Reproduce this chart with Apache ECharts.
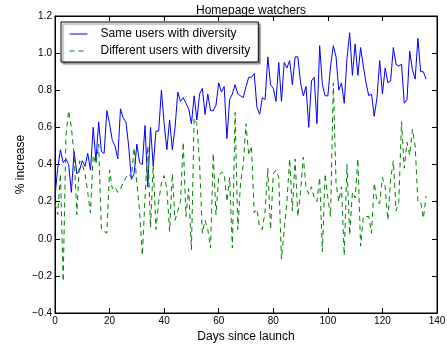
<!DOCTYPE html>
<html>
<head>
<meta charset="utf-8">
<script src="https://cdn.jsdelivr.net/npm/echarts@6/dist/echarts.min.js"></script>
<style>
  html, body { margin: 0; padding: 0; background: #fff; }
  #chart { width: 447px; height: 349px; }
</style>
</head>
<body>
<div id="chart"></div>
<script>
// % increase per day
let sameUsers = [
  0.23, 0.38, 0.48, 0.41, 0.43, 0.40, 0.25, 0.47, 0.35, 0.37,
  0.42, 0.39, 0.46, 0.37, 0.60, 0.42, 0.63, 0.47, 0.46, 0.69,
  0.62, 0.53, 0.50, 0.43, 0.70, 0.65, 0.63, 0.50, 0.32, 0.35,
  0.51, 0.41, 0.40, 0.61, 0.28, 0.60, 0.39, 0.58, 0.58, 0.80,
  0.62, 0.48, 0.64, 0.48, 0.60, 0.79, 0.74, 0.76, 0.73, 0.70,
  0.62, 0.77, 0.64, 0.78, 0.81, 0.67, 0.78, 0.69, 0.69, 0.72,
  0.84, 0.79, 0.82, 0.54, 0.75, 0.78, 0.83, 0.78, 0.77, 0.76,
  0.82, 0.87, 0.87, 0.89, 0.71, 0.67, 0.76, 0.75, 0.98, 0.83,
  0.81, 0.74, 0.95, 0.74, 0.95, 0.92, 0.96, 0.83, 0.98, 0.98,
  0.84, 0.77, 0.82, 0.60, 0.85, 0.87, 0.62, 1.04, 0.83, 0.77,
  0.77, 0.93, 1.04, 0.98, 0.80, 0.84, 0.73, 0.97, 1.11, 0.88,
  1.05, 0.88, 1.03, 0.93, 0.84, 0.77, 0.78, 0.66, 0.76, 0.96,
  0.78, 0.92, 0.84, 0.85, 1.03, 0.94, 0.93, 0.94, 0.73, 0.75,
  1.01, 0.91, 0.86, 1.08, 0.90, 0.90, 0.86
];
let differentUsers = [
  0.19, 0.13, 0.35, -0.23, 0.55, 0.69, 0.60, 0.45, 0.13, 0.42,
  0.40, 0.35, 0.25, 0.14, 0.45, 0.40, 0.51, 0.05, 0.04, 0.03,
  0.37, 0.27, 0.28, 0.25, 0.27, 0.30, 0.33, 0.35, 0.33, 0.49,
  0.30, 0.15, -0.09, 0.22, 0.50, 0.06, 0.40, 0.05, 0.20, 0.30,
  0.34, 0.27, 0.04, 0.35, 0.10, 0.15, 0.20, 0.52, 0.12, 0.27,
  -0.06, 0.65, 0.62, 0.40, 0.03, 0.10, 0.05, -0.05, 0.46, 0.13,
  0.33, 0.36, 0.35, 0.20, 0.33, -0.05, 0.68, 0.05, 0.30, 0.40,
  0.62, 0.45, 0.50, 0.14, 0.16, 0.06, 0.05, 0.15, 0.38, 0.05,
  0.35, 0.37, 0.33, -0.11, 0.05, 0.20, 0.43, 0.15, 0.43, 0.12,
  0.25, 0.44, 0.28, 0.24, 0.28, 0.22, 0.20, 0.33, -0.07, 0.35,
  0.22, 0.12, 0.84, 0.30, 0.20, 0.28, -0.09, 0.40, 0.02, 0.25,
  0.22, 0.43, -0.04, 0.12, 0.12, 0.12, 0.03, 0.30, 0.20, 0.19,
  0.33, 0.28, 0.10, 0.32, 0.42, 0.15, 0.20, 0.63, 0.38, 0.52,
  0.45, 0.59, 0.50, 0.20, 0.20, 0.11, 0.23
];
let seriesNames = ['Same users with diversity', 'Different users with diversity'];
let xTicks = { min: 0, max: 140, interval: 20 };
let yTicks = { min: -0.4, max: 1.2, interval: 0.2 };

let font = '"Liberation Sans", Arial, sans-serif';

function toPoints(values) {
  return values.map((v, i) => [i, v]);
}

function yLabel(v) {
  return v.toFixed(1).replace('-', '\u2212');
}

let tickStyle = { show: true, inside: true, length: 5, lineStyle: { color: '#000', width: 1 } };
let frameLine = { show: true, onZero: false, lineStyle: { color: '#000', width: 1 } };

let options = {
  animation: false,
  backgroundColor: '#fff',
  textStyle: { fontFamily: font },
  title: {
    text: 'Homepage watchers',
    left: 246,
    textAlign: 'center',
    top: 0,
    textStyle: { fontFamily: font, fontSize: 12, fontWeight: 'normal', color: '#000' }
  },
  legend: {
    orient: 'vertical',
    left: 61,
    top: 22,
    padding: [6, 8, 5, 8],
    itemGap: 5,
    itemWidth: 18,
    itemHeight: 10,
    backgroundColor: '#fff',
    borderColor: '#000',
    borderWidth: 1,
    shadowColor: 'rgba(0,0,0,0.45)',
    shadowBlur: 1,
    shadowOffsetX: 2,
    shadowOffsetY: 2,
    itemStyle: { opacity: 0 },
    lineStyle: { width: 1 },
    textStyle: { fontFamily: font, fontSize: 12, color: '#000', padding: [0, 0, 0, 8] },
    data: seriesNames
  },
  grid: {
    left: 55,
    right: 10,
    top: 16,
    bottom: 36,
    outerBoundsMode: 'none',
    containLabel: false,
    show: true,
    borderColor: '#000',
    borderWidth: 1,
    backgroundColor: 'transparent'
  },
  xAxis: [{
    type: 'value',
    min: xTicks.min,
    max: xTicks.max,
    interval: xTicks.interval,
    name: 'Days since launch',
    nameLocation: 'middle',
    nameGap: 17,
    nameTextStyle: { fontFamily: font, fontSize: 12, color: '#000' },
    axisLine: frameLine,
    axisTick: tickStyle,
    axisLabel: { fontFamily: font, fontSize: 10, color: '#000', margin: 3 },
    splitLine: { show: false }
  }, {
    type: 'value',
    position: 'top',
    min: xTicks.min,
    max: xTicks.max,
    interval: xTicks.interval,
    axisLine: frameLine,
    axisTick: tickStyle,
    axisLabel: { show: false },
    splitLine: { show: false }
  }],
  yAxis: [{
    type: 'value',
    min: yTicks.min,
    max: yTicks.max,
    interval: yTicks.interval,
    name: '% increase',
    nameLocation: 'middle',
    nameGap: 28,
    nameMoveOverlap: false,
    nameTextStyle: { fontFamily: font, fontSize: 12, color: '#000' },
    axisLine: frameLine,
    axisTick: tickStyle,
    axisLabel: { fontFamily: font, fontSize: 10, color: '#000', margin: 3, formatter: yLabel },
    splitLine: { show: false }
  }, {
    type: 'value',
    position: 'right',
    min: yTicks.min,
    max: yTicks.max,
    interval: yTicks.interval,
    axisLine: frameLine,
    axisTick: tickStyle,
    axisLabel: { show: false },
    splitLine: { show: false }
  }],
  series: [{
    name: seriesNames[0],
    type: 'line',
    xAxisIndex: 0,
    yAxisIndex: 0,
    showSymbol: false,
    symbol: 'none',
    lineStyle: { color: '#0000ff', width: 1 },
    itemStyle: { color: '#0000ff' },
    data: toPoints(sameUsers)
  }, {
    name: seriesNames[1],
    type: 'line',
    xAxisIndex: 0,
    yAxisIndex: 0,
    showSymbol: false,
    symbol: 'none',
    lineStyle: { color: '#008000', width: 1, type: [5, 4] },
    itemStyle: { color: '#008000' },
    data: toPoints(differentUsers)
  }]
};

let myChart = echarts.init(document.getElementById('chart'));
myChart.setOption(options);
</script>
</body>
</html>
